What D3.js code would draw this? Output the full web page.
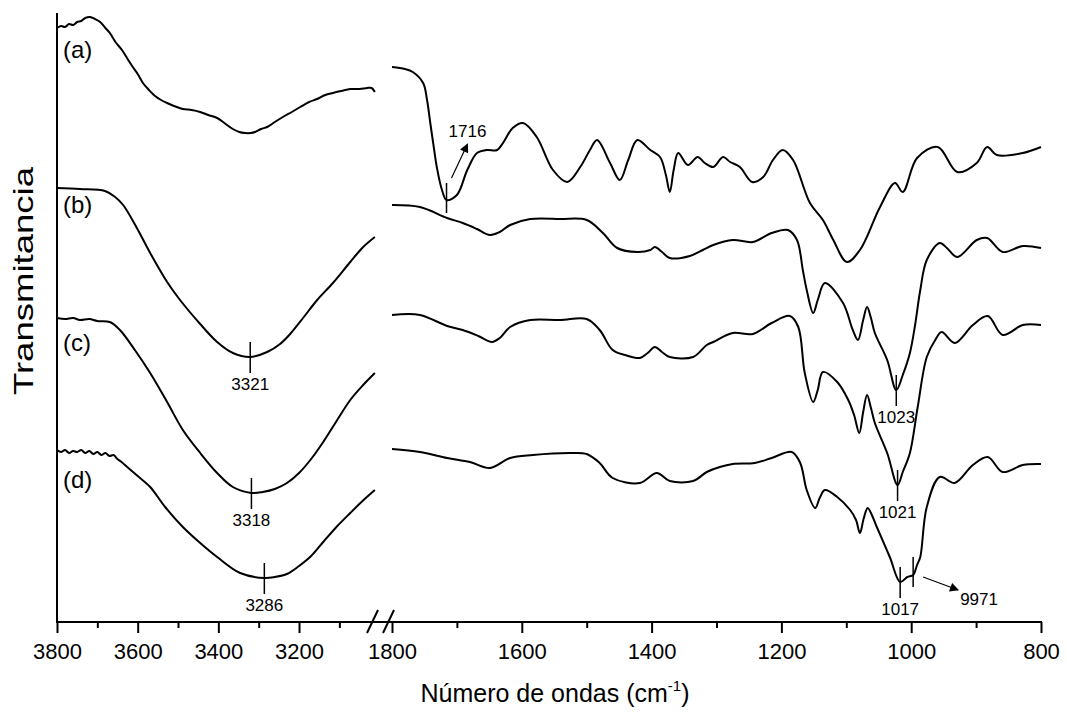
<!DOCTYPE html>
<html>
<head>
<meta charset="utf-8">
<script src="https://cdn.jsdelivr.net/npm/d3@7"></script>
<style>
  html, body { margin: 0; padding: 0; background: #fff; }
  svg { display: block; font-family: Arial, "Liberation Sans", sans-serif; }
</style>
</head>
<body>
<svg id="chart" width="1067" height="718"></svg>
<script>
// ---------- DATA (wavenumber cm^-1, transmittance in arbitrary offset units) ----------
const leftTicks = [3800, 3600, 3400, 3200];
const leftMinor = [3700, 3500, 3300, 3100];
const rightTicks = [1800, 1600, 1400, 1200, 1000, 800];
const rightMinor = [1700, 1500, 1300, 1100, 900];
const seriesLabels = ["(a)", "(b)", "(c)", "(d)"];

const aHigh = [[3800,594],[3790,596],[3780,595],[3770,598],[3760,597],[3750,600],[3740,601],[3730,604],[3718,605],[3706,603],[3693,600],[3680,594],[3669,589],[3655,580],[3639,572],[3625,563],[3612,555],[3600,548],[3587,539],[3572,532],[3557,526],[3542,522],[3527,519],[3510,516],[3488,513],[3466,512],[3445,510],[3425,507],[3403,504],[3385,499],[3364,493],[3348,490],[3334,489],[3320,489],[3309,490],[3294,493],[3279,495],[3260,500],[3240,505],[3218,510],[3197,515],[3175,520],[3155,523],[3135,527],[3116,529],[3095,531],[3073,533],[3050,533],[3031,534],[3020,534],[3012,530]];
const aLow = [[1800,555],[1780,553],[1768,550],[1752,539],[1746,522],[1741,499],[1735,472],[1731,455],[1723,432],[1716,422],[1700,427],[1684,452],[1669,469],[1654,472],[1638,472],[1629,479],[1614,494],[1598,499],[1577,485],[1552,452],[1530,440],[1510,455],[1495,472],[1484,482],[1464,459],[1449,442],[1436,462],[1422,482],[1402,472],[1387,465],[1378,447],[1372,430],[1366,452],[1359,469],[1344,457],[1329,465],[1318,459],[1305,455],[1290,465],[1279,460],[1264,455],[1245,440],[1228,445],[1213,462],[1198,472],[1182,462],[1156,419],[1136,402],[1120,382],[1099,360],[1079,372],[1048,415],[1025,439],[1013,430],[991,464],[959,475],[929,450],[899,459],[883,475],[868,467],[828,469],[800,475]];

const bHigh = [[3800,434],[3743,433],[3681,431],[3656,425],[3636,417],[3602,394],[3569,369],[3527,340],[3495,322],[3445,298],[3403,280],[3364,269],[3321,265],[3279,270],[3247,278],[3222,288],[3190,304],[3155,322],[3116,339],[3073,360],[3041,375],[3012,385]];
const bLow = [[1800,417],[1757,415],[1715,404],[1691,399],[1669,393],[1649,387],[1634,390],[1618,397],[1587,403],[1541,403],[1500,402],[1475,389],[1453,374],[1422,370],[1402,372],[1395,375],[1384,370],[1372,364],[1341,366],[1321,372],[1305,377],[1275,382],[1244,380],[1215,389],[1190,392],[1176,382],[1167,352],[1161,332],[1151,309],[1144,322],[1133,339],[1105,319],[1090,292],[1082,282],[1074,302],[1068,315],[1062,304],[1056,289],[1037,262],[1023,232],[1013,247],[1002,269],[994,297],[986,332],[976,362],[956,379],[945,374],[929,365],[899,382],[883,384],[859,370],[828,376],[800,374]];

const cHigh = [[3800,304],[3780,303],[3760,304],[3743,302],[3720,303],[3700,301],[3669,300],[3644,292],[3607,272],[3569,249],[3527,220],[3488,192],[3445,169],[3403,149],[3364,135],[3318,129],[3290,130],[3260,133],[3230,139],[3200,149],[3170,163],[3140,180],[3110,199],[3073,222],[3041,237],[3012,249]];
const cLow = [[1800,307],[1757,307],[1715,296],[1691,292],[1667,286],[1646,280],[1634,284],[1618,295],[1587,302],[1541,302],[1500,303],[1480,292],[1460,272],[1441,267],[1418,264],[1406,269],[1395,275],[1384,270],[1372,265],[1336,265],[1315,277],[1305,280],[1275,289],[1244,288],[1215,299],[1187,306],[1174,295],[1164,249],[1151,220],[1144,232],[1136,250],[1114,240],[1097,222],[1088,207],[1080,189],[1074,210],[1068,227],[1062,214],[1056,199],[1037,169],[1021,137],[1013,150],[1002,169],[990,215],[976,265],[963,282],[953,290],[933,279],[905,297],[882,306],[859,287],[828,297],[800,297]];

const dHigh = [[3800,172],[3790,170],[3780,172],[3770,169],[3760,171],[3750,170],[3740,172],[3730,169],[3720,171],[3710,168],[3700,170],[3690,167],[3680,169],[3670,166],[3660,167],[3650,163],[3640,160],[3626,155],[3600,146],[3569,135],[3532,115],[3488,95],[3445,79],[3403,65],[3346,49],[3286,44],[3260,45],[3230,48],[3200,56],[3170,66],[3140,80],[3105,96],[3073,109],[3040,122],[3012,132]];
const dLow = [[1800,173],[1757,170],[1715,164],[1680,160],[1649,154],[1618,164],[1583,167],[1526,169],[1500,168],[1480,159],[1460,144],[1418,139],[1392,149],[1372,141],[1336,141],[1315,150],[1295,155],[1275,158],[1241,159],[1215,164],[1184,170],[1171,159],[1161,132],[1148,114],[1141,124],[1133,132],[1114,125],[1094,112],[1085,102],[1079,89],[1073,104],[1067,114],[1060,106],[1053,95],[1033,65],[1017,40],[1006,45],[997,47],[991,57],[986,65],[976,115],[956,145],[933,139],[905,157],[882,165],[859,150],[828,157],[800,158]];

// peak annotations: [wavenumber, series index, segment, label]
const peakMarks = [
  [3321, 1, "high", "3321"],
  [3318, 2, "high", "3318"],
  [3286, 3, "high", "3286"],
  [1023, 1, "low", "1023"],
  [1021, 2, "low", "1021"],
  [1017, 3, "low", "1017"]
];

// ---------- LAYOUT ----------
const svg = d3.select("#chart");
const plotTop = 13, plotBottom = 622;
const xHigh = d3.scaleLinear().domain([3800, 3000]).range([57, 379.7]);
const xLow = d3.scaleLinear().domain([1800, 800]).range([392, 1041]);
const y = d3.scaleLinear().domain([0, 609]).range([plotBottom, plotTop]);

const highSeries = [aHigh, bHigh, cHigh, dHigh];
const lowSeries = [aLow, bLow, cLow, dLow];

const defs = svg.append("defs");
defs.append("marker").attr("id", "arrow")
  .attr("viewBox", "0 0 10 10").attr("refX", 9).attr("refY", 5)
  .attr("markerWidth", 12).attr("markerHeight", 9)
  .attr("markerUnits", "userSpaceOnUse")
  .attr("orient", "auto")
  .append("path").attr("d", "M0,0 L10,5 L0,10 z").attr("fill", "#000");

const lineHigh = d3.line().x(d => xHigh(d[0])).y(d => y(d[1])).curve(d3.curveCatmullRom.alpha(0.5));
const lineLow = d3.line().x(d => xLow(d[0])).y(d => y(d[1])).curve(d3.curveCatmullRom.alpha(0.5));

const g = svg.append("g");
highSeries.forEach(s => g.append("path").attr("d", lineHigh(s))
  .attr("fill", "none").attr("stroke", "#000").attr("stroke-width", 2).attr("stroke-linejoin", "round"));
lowSeries.forEach(s => g.append("path").attr("d", lineLow(s))
  .attr("fill", "none").attr("stroke", "#000").attr("stroke-width", 2).attr("stroke-linejoin", "round"));

// ---------- AXES ----------
function styleAxis(sel) {
  sel.select(".domain").remove();
  sel.selectAll(".tick line").attr("stroke", "#000").attr("stroke-width", 2);
  sel.selectAll(".tick text").attr("fill", "#000").attr("font-size", 22)
    .attr("font-family", "Arial, 'Liberation Sans', sans-serif");
}
const axHigh = svg.append("g").attr("transform", `translate(0,${plotBottom})`)
  .call(d3.axisBottom(xHigh).tickValues(leftTicks).tickSize(11).tickPadding(10).tickFormat(d3.format("d")));
styleAxis(axHigh);
const axHighMinor = svg.append("g").attr("transform", `translate(0,${plotBottom})`)
  .call(d3.axisBottom(xHigh).tickValues(leftMinor).tickSize(6).tickFormat(""));
styleAxis(axHighMinor);
const axLow = svg.append("g").attr("transform", `translate(0,${plotBottom})`)
  .call(d3.axisBottom(xLow).tickValues(rightTicks).tickSize(11).tickPadding(10).tickFormat(d3.format("d")));
styleAxis(axLow);
const axLowMinor = svg.append("g").attr("transform", `translate(0,${plotBottom})`)
  .call(d3.axisBottom(xLow).tickValues(rightMinor).tickSize(6).tickFormat(""));
styleAxis(axLowMinor);

// baseline of x axis and left spine
svg.append("line").attr("x1", xHigh(3800) - 1).attr("x2", xLow(800) + 1)
  .attr("y1", plotBottom).attr("y2", plotBottom).attr("stroke", "#000").attr("stroke-width", 2);
svg.append("line").attr("x1", xHigh(3800)).attr("x2", xHigh(3800))
  .attr("y1", plotTop).attr("y2", plotBottom).attr("stroke", "#000").attr("stroke-width", 2);

// axis break marks
[367, 383].forEach(bx => {
  svg.append("line").attr("x1", bx).attr("y1", plotBottom + 11).attr("x2", bx + 11).attr("y2", plotBottom - 12)
    .attr("stroke", "#000").attr("stroke-width", 2);
});

// axis titles
const xt = svg.append("text").attr("x", 555).attr("y", 702).attr("text-anchor", "middle")
  .attr("font-size", 25).attr("fill", "#000");
xt.append("tspan").text("Número de ondas (cm");
xt.append("tspan").attr("font-size", 15).attr("dy", -11).text("-1");
xt.append("tspan").attr("dy", 11).text(")");

svg.append("text").attr("transform", "translate(33,281) rotate(-90)")
  .attr("text-anchor", "middle").attr("font-size", 28)
  .attr("textLength", 228).attr("lengthAdjust", "spacingAndGlyphs")
  .attr("fill", "#000").text("Transmitancia");

// series labels
const labelPos = [[63, 58], [63, 213], [63, 351], [63, 488]];
seriesLabels.forEach((t, i) => {
  svg.append("text").attr("x", labelPos[i][0]).attr("y", labelPos[i][1])
    .attr("font-size", 24).attr("fill", "#000").text(t);
});

// ---------- ANNOTATIONS ----------
function valueAt(series, w) {
  const s = series.slice().sort((p, q) => p[0] - q[0]);
  for (let i = 0; i < s.length - 1; i++) {
    if (w >= s[i][0] && w <= s[i + 1][0]) {
      const t = (w - s[i][0]) / (s[i + 1][0] - s[i][0]);
      return s[i][1] + t * (s[i + 1][1] - s[i][1]);
    }
  }
  return s[0][1];
}
const ann = svg.append("g").attr("font-size", 17).attr("fill", "#000");
peakMarks.forEach(([w, si, seg, lab]) => {
  const xs = seg === "high" ? xHigh : xLow;
  const ser = seg === "high" ? highSeries[si] : lowSeries[si];
  const px = xs(w), py = y(valueAt(ser, w));
  ann.append("line").attr("x1", px).attr("x2", px).attr("y1", py - 15).attr("y2", py + 16)
    .attr("stroke", "#000").attr("stroke-width", 1.5);
  ann.append("text").attr("x", px).attr("y", py + 33).attr("text-anchor", "middle").text(lab);
});

// 1716 (with arrow)
{
  const px = xLow(1716), py = y(valueAt(aLow, 1716));
  ann.append("line").attr("x1", px).attr("x2", px).attr("y1", py - 17).attr("y2", py + 13)
    .attr("stroke", "#000").attr("stroke-width", 1.5);
  ann.append("line").attr("x1", px + 5).attr("y1", py - 22).attr("x2", px + 21).attr("y2", py - 56)
    .attr("stroke", "#000").attr("stroke-width", 1.2).attr("marker-end", "url(#arrow)");
  ann.append("text").attr("x", px + 21).attr("y", py - 63).attr("text-anchor", "middle").text("1716");
}
// 997 (with arrow)
{
  const px = xLow(997), py = y(valueAt(dLow, 997));
  ann.append("line").attr("x1", px).attr("x2", px).attr("y1", py - 18).attr("y2", py + 12)
    .attr("stroke", "#000").attr("stroke-width", 1.5);
  ann.append("line").attr("x1", px + 10).attr("y1", py + 2).attr("x2", px + 45).attr("y2", py + 15)
    .attr("stroke", "#000").attr("stroke-width", 1.2).attr("marker-end", "url(#arrow)");
  ann.append("text").attr("x", px + 47).attr("y", py + 30).attr("text-anchor", "start").text("9971");
}
</script>
</body>
</html>
